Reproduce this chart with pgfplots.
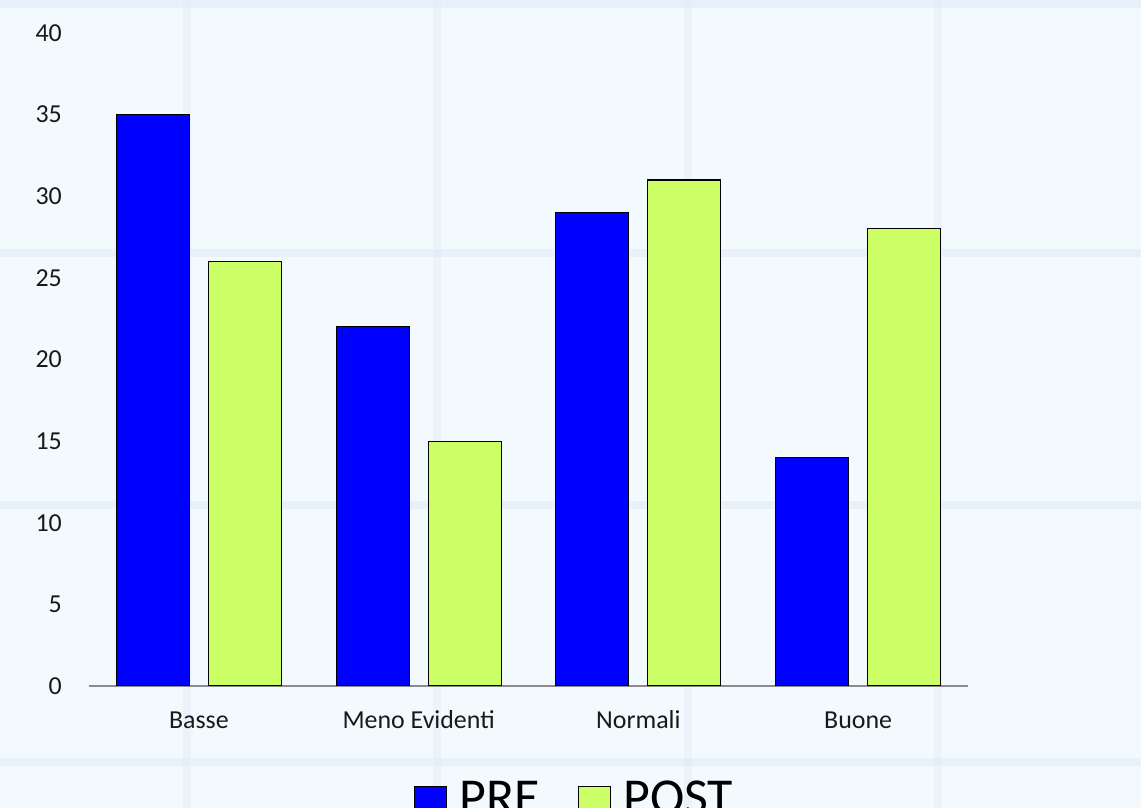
\documentclass[border=0pt]{standalone}
\usepackage{fontspec}
\setmainfont{Carlito}
\usepackage{pgfplots}
\pgfplotsset{compat=1.18}

\definecolor{bgcol}{HTML}{F3FAFD}
\definecolor{bandcol}{HTML}{E4ECF8}
\definecolor{preblue}{HTML}{0000FF}
\definecolor{postgreen}{HTML}{CCFF66}
\definecolor{axisgray}{HTML}{8C8C8C}

\begin{document}
\begin{tikzpicture}[x=1bp,y=1bp]
  % page frame: image pixel (px,py) -> (px-89, 686-py)
  \path[use as bounding box] (-89,-122) rectangle (1052,686);
  \clip (-89,-122) rectangle (1052,686);
  \fill[bgcol] (-89,-122) rectangle (1052,686);
  % faint background texture bands
  \foreach \yy in {4,253,505,762} {
    \fill[bandcol, opacity=0.7] (-89,686-\yy-4) rectangle (1052,686-\yy+4);
  }
  \foreach \xx in {187,437,688,938} {
    \fill[bandcol, opacity=0.5] (\xx-89-4,-122) rectangle (\xx-89+4,686);
  }
  \begin{axis}[
    scale only axis,
    width=879bp, height=653bp,
    ybar=19bp, bar width=73bp,
    xmin=-0.5, xmax=3.5,
    ymin=0, ymax=40,
    ytick={0,5,...,40},
    xtick=data,
    xticklabels={Basse, Meno Evidenti, Normali, Buone},
    axis lines*=left,
    y axis line style={draw=none},
    x axis line style={draw=axisgray, line width=1.5bp},
    major tick length=0pt,
    tick label style={font=\fontsize{26}{26}\selectfont, text=black!90},
    /pgf/number format/assume math mode=true,
    yticklabel style={anchor=east, inner sep=0pt, xshift=-27bp},
    xticklabel style={anchor=center, yshift=-34bp},
    legend columns=2,
    legend style={at={(0.366,-0.142)}, anchor=north west, draw=none, fill=none,
      font=\fontsize{52}{52}\selectfont,
      nodes={inner sep=0pt},
      /tikz/every even column/.append style={column sep=38bp}},
    legend image code/.code={%
      \draw[#1, line width=1.2bp] (0bp,-20bp) rectangle (32bp,12bp);
      \path[draw=none, fill=none] (0bp,-20bp) rectangle (45bp,12bp);},
  ]
    % PRE
    \addplot[draw=black, line width=1.2bp, fill=preblue]
      coordinates {(0,35) (1,22) (2,29) (3,14)};
    \addlegendentry{PRE}
    % POST
    \addplot[draw=black, line width=1.2bp, fill=postgreen]
      coordinates {(0,26) (1,15) (2,31) (3,28)};
    \addlegendentry{POST}
  \end{axis}
\end{tikzpicture}
\end{document}
